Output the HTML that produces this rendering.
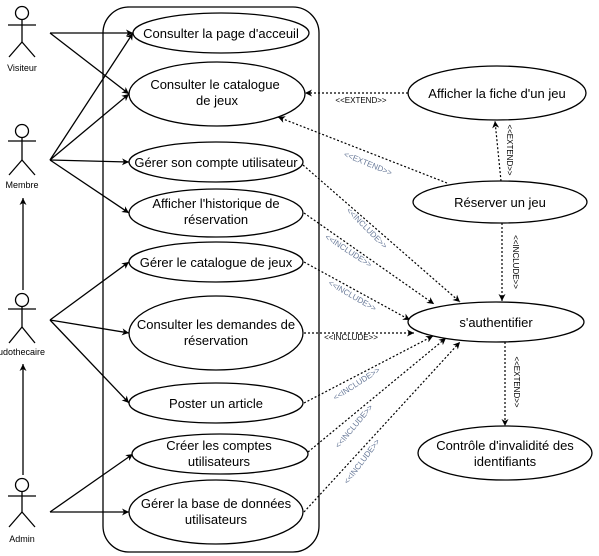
<!DOCTYPE html>
<html><head><meta charset="utf-8"><style>
html,body{margin:0;padding:0;background:#fff;}
svg{display:block;font-family:"Liberation Sans",Arial,sans-serif;}
.e{fill:#fff;stroke:#000;stroke-width:1.3;}
.t{font-size:13px;fill:#000;text-anchor:middle;}
.a{font-size:9px;fill:#000;text-anchor:middle;}
.s{stroke:#000;stroke-width:1.3;fill:none;}
.d{stroke:#000;stroke-width:1.2;fill:none;stroke-dasharray:2,2;}
.l{font-size:8px;fill:#000;text-anchor:middle;}
.g{font-size:8px;fill:#6a7b9a;text-anchor:middle;}
</style></head><body>
<svg width="599" height="556" viewBox="0 0 599 556" xmlns="http://www.w3.org/2000/svg">
<defs>
<marker id="ar" markerWidth="8" markerHeight="8" refX="7" refY="4" orient="auto" markerUnits="userSpaceOnUse"><path d="M0,0.5 L7,4 L0,7.5 L2,4 Z" fill="#000"/></marker>
<marker id="ho" markerWidth="10" markerHeight="10" refX="7" refY="4" orient="auto" markerUnits="userSpaceOnUse"><path d="M0,0.5 L7,4 L0,7.5 L2,4 Z" fill="#000"/></marker>
</defs>

<rect x="103" y="7" width="216" height="545" rx="26" class="s"/>

<!-- actors -->
<g class="s">
<circle cx="22" cy="13" r="6.5"/><line x1="22" y1="19.5" x2="22" y2="42"/><line x1="8" y1="25" x2="36" y2="25"/><line x1="22" y1="42" x2="9" y2="57"/><line x1="22" y1="42" x2="35" y2="57"/>
<circle cx="22" cy="131" r="6.5"/><line x1="22" y1="137.5" x2="22" y2="160"/><line x1="8" y1="141" x2="36" y2="141"/><line x1="22" y1="160" x2="9" y2="175"/><line x1="22" y1="160" x2="35" y2="175"/>
<circle cx="22" cy="300" r="6.5"/><line x1="22" y1="306.5" x2="22" y2="327"/><line x1="8" y1="309" x2="36" y2="309"/><line x1="22" y1="327" x2="9" y2="343"/><line x1="22" y1="327" x2="35" y2="343"/>
<circle cx="22" cy="485" r="6.5"/><line x1="22" y1="491.5" x2="22" y2="512"/><line x1="8" y1="496" x2="36" y2="496"/><line x1="22" y1="512" x2="9" y2="527"/><line x1="22" y1="512" x2="35" y2="527"/>
</g>
<text class="a" x="22" y="71">Visiteur</text>
<text class="a" x="22" y="188">Membre</text>
<text class="a" x="-2" y="355" style="text-anchor:start">udothecaire</text>
<text class="a" x="22" y="542">Admin</text>

<line class="s" x1="23" y1="475" x2="23" y2="364" marker-end="url(#ho)"/>
<line class="s" x1="23" y1="290" x2="23" y2="198" marker-end="url(#ho)"/>

<!-- actor links -->
<g class="s">
<line x1="50" y1="33" x2="133" y2="33" marker-end="url(#ar)"/>
<line x1="50" y1="33" x2="129" y2="94" marker-end="url(#ar)"/>
<line x1="50" y1="160" x2="133" y2="33" marker-end="url(#ar)"/>
<line x1="50" y1="160" x2="129" y2="94" marker-end="url(#ar)"/>
<line x1="50" y1="160" x2="129" y2="162" marker-end="url(#ar)"/>
<line x1="50" y1="160" x2="129" y2="213" marker-end="url(#ar)"/>
<line x1="50" y1="320" x2="129" y2="262" marker-end="url(#ar)"/>
<line x1="50" y1="320" x2="129" y2="333" marker-end="url(#ar)"/>
<line x1="50" y1="320" x2="129" y2="403" marker-end="url(#ar)"/>
<line x1="50" y1="512" x2="133" y2="454" marker-end="url(#ar)"/>
<line x1="50" y1="512" x2="129" y2="512" marker-end="url(#ar)"/>
</g>

<!-- dotted -->
<g class="d">
<line x1="408" y1="93" x2="305" y2="93" marker-end="url(#ar)"/>
<line x1="447" y1="183" x2="278" y2="117" marker-end="url(#ar)"/>
<line x1="501" y1="181" x2="495" y2="121" marker-end="url(#ar)"/>
<line x1="502" y1="223" x2="502" y2="301" marker-end="url(#ar)"/>
<line x1="303" y1="165" x2="460" y2="302" marker-end="url(#ar)"/>
<line x1="304" y1="213" x2="434" y2="304" marker-end="url(#ar)"/>
<line x1="304" y1="262" x2="410" y2="320" marker-end="url(#ar)"/>
<line x1="304" y1="333" x2="414" y2="333" marker-end="url(#ar)"/>
<line x1="304" y1="403" x2="433" y2="336" marker-end="url(#ar)"/>
<line x1="308" y1="452" x2="446" y2="338" marker-end="url(#ar)"/>
<line x1="304" y1="512" x2="460" y2="342" marker-end="url(#ar)"/>
<line x1="505" y1="342" x2="505" y2="426" marker-end="url(#ar)"/>
</g>

<text class="l" x="361" y="103">&lt;&lt;EXTEND&gt;&gt;</text>
<text class="l" x="351" y="340">&lt;&lt;INCLUDE&gt;&gt;</text>
<text class="l" transform="translate(507,150) rotate(90)">&lt;&lt;EXTEND&gt;&gt;</text>
<text class="l" transform="translate(513,262) rotate(90)">&lt;&lt;INCLUDE&gt;&gt;</text>
<text class="l" transform="translate(514,382) rotate(90)">&lt;&lt;EXTEND&gt;&gt;</text>
<text class="g" transform="translate(367,166) rotate(22)">&lt;&lt;EXTEND&gt;&gt;</text>
<text class="g" transform="translate(365,230) rotate(45)">&lt;&lt;INCLUDE&gt;&gt;</text>
<text class="g" transform="translate(347,253) rotate(33)">&lt;&lt;INCLUDE&gt;&gt;</text>
<text class="g" transform="translate(351,298) rotate(30)">&lt;&lt;INCLUDE&gt;&gt;</text>
<text class="g" transform="translate(358,386) rotate(-33)">&lt;&lt;INCLUDE&gt;&gt;</text>
<text class="g" transform="translate(356,428) rotate(-50)">&lt;&lt;INCLUDE&gt;&gt;</text>
<text class="g" transform="translate(364,463) rotate(-53)">&lt;&lt;INCLUDE&gt;&gt;</text>

<!-- use cases -->
<ellipse class="e" cx="221" cy="33" rx="88" ry="20"/>
<text class="t" x="221" y="38">Consulter la page d'acceuil</text>
<ellipse class="e" cx="217" cy="94" rx="88" ry="32"/>
<text class="t" x="215" y="89">Consulter le  catalogue</text><text class="t" x="217" y="105">de jeux</text>
<ellipse class="e" cx="216" cy="162" rx="87" ry="20"/>
<text class="t" x="216" y="167">Gérer son compte utilisateur</text>
<ellipse class="e" cx="216" cy="213" rx="87" ry="24"/>
<text class="t" x="216" y="208">Afficher l'historique de</text><text class="t" x="216" y="224">réservation</text>
<ellipse class="e" cx="216" cy="262" rx="87" ry="20"/>
<text class="t" x="216" y="267">Gérer le catalogue de jeux</text>
<ellipse class="e" cx="216" cy="333" rx="87" ry="37"/>
<text class="t" x="216" y="329">Consulter les demandes de</text><text class="t" x="216" y="345">réservation</text>
<ellipse class="e" cx="216" cy="403" rx="87" ry="20"/>
<text class="t" x="216" y="408">Poster un article</text>
<ellipse class="e" cx="220" cy="454" rx="88" ry="20"/>
<text class="t" x="219" y="450">Créer les comptes</text><text class="t" x="219" y="466">utilisateurs</text>
<ellipse class="e" cx="216" cy="512" rx="87" ry="32"/>
<text class="t" x="216" y="508">Gérer la base de données</text><text class="t" x="216" y="524">utilisateurs</text>

<ellipse class="e" cx="497" cy="93" rx="89" ry="27"/>
<text class="t" x="497" y="98">Afficher la fiche d'un jeu</text>
<ellipse class="e" cx="500" cy="202" rx="87" ry="21"/>
<text class="t" x="500" y="207">Réserver un jeu</text>
<ellipse class="e" cx="496" cy="322" rx="88" ry="20"/>
<text class="t" x="496" y="327">s'authentifier</text>
<ellipse class="e" cx="505" cy="453" rx="87" ry="27"/>
<text class="t" x="505" y="450">Contrôle d'invalidité des</text><text class="t" x="505" y="466">identifiants</text>
</svg>
</body></html>
